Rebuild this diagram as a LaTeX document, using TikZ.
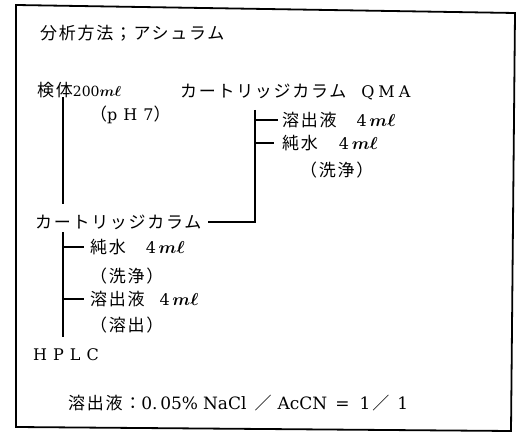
\documentclass[tikz,border=0pt]{standalone}
\usepackage{fontspec}
\setmainfont{DejaVu Serif}
\newfontfamily\jpf[LetterSpace=10]{Noto Sans CJK JP}
\newcommand{\jp}{\jpf\fontsize{17}{20}\selectfont}
\newcommand{\mlunit}{{\boldmath$m\ell$}}
\begin{document}
\begin{tikzpicture}[x=1pt,y=-1pt,
  txt/.style={anchor=west,inner sep=0pt,font=\fontsize{16}{19}\selectfont},
  conn/.style={line width=1.3pt},
  frame/.style={line width=1.8pt}]
\useasboundingbox (0,0) rectangle (518,435);
\draw[frame] (16,5) -- (515,13) -- (511,431) -- (16,427) -- cycle;
% texts
\node[txt] (title) at (40,33) {\jp 分析方法；アシュラム};
\node[txt,font=\fontsize{14}{17}\selectfont] (sample) at (37,90) {{\jp 検体}200\mlunit};
\node[txt] (cart1) at (180,92) {{\jp カートリッジカラム}\hspace{15pt}Q\hspace{4pt}M\hspace{4pt}A};
\node[txt] (ph) at (90,115) {{\jp （}p\hspace{6pt}H\hspace{6pt}7{\jp ）}};
\node[txt] (eluR) at (282,120) {{\jp 溶出液}\hspace{20pt}4\,\mlunit};
\node[txt] (watR) at (282,143) {{\jp 純水}\hspace{21pt}4\,\mlunit};
\node[txt] (washR) at (300,170) {\jp （洗浄）};
\node[txt] (cart2) at (35,222) {\jp カートリッジカラム};
\node[txt] (watL) at (90,247) {{\jp 純水}\hspace{20pt}4\,\mlunit};
\node[txt] (washL) at (90,276) {\jp （洗浄）};
\node[txt] (eluL) at (90,299) {{\jp 溶出液}\hspace{15pt}4\,\mlunit};
\node[txt] (elutL) at (90,325) {\jp （溶出）};
\node[txt] (hplc) at (33,355) {H\hspace{6pt}P\hspace{6pt}L\hspace{6pt}C};
\node[txt,font=\fontsize{17}{20}\selectfont] (note) at (68,403) {{\jp 溶出液：}0.\,05\%\hspace{5pt}NaCl\hspace{8pt}{\jp ／}\hspace{6pt}AcCN\hspace{8pt}=\hspace{10pt}1\hspace{2pt}{\jp ／}\hspace{8pt}1};
% connectors
\coordinate (v1top) at (63,97);
\coordinate (v1bot) at (63,204);
\coordinate (v2top) at (63,232);
\coordinate (v2bot) at (63,337);
\coordinate (jRtop) at (255,110);
\coordinate (jRbot) at (255,222);
\draw[conn] (v1top) -- (v1bot);
\draw[conn] (jRtop) -- (jRbot) -- ([xshift=7pt]cart2.east);
\draw[conn] (jRtop |- eluR.west) -- ([xshift=-4pt]eluR.west);
\draw[conn] (jRtop |- watR.west) -- ([xshift=-8pt]watR.west);
\draw[conn] (v2top) -- (v2bot);
\draw[conn] (v2top |- watL.west) -- ([xshift=-6pt]watL.west);
\draw[conn] (v2top |- eluL.west) -- ([xshift=-6pt]eluL.west);
\end{tikzpicture}
\end{document}
